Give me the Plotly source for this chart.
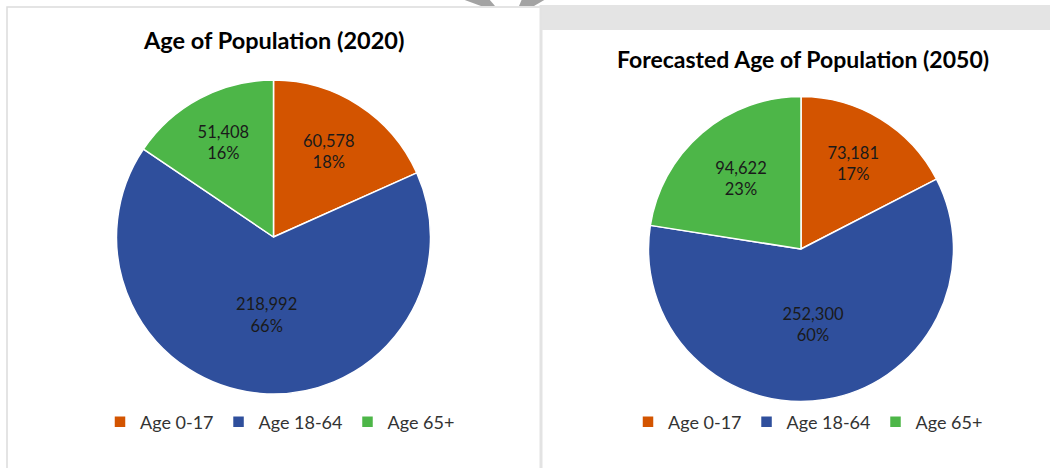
import plotly.graph_objects as go

W, H = 1050, 468

categories = ["Age 0-17", "Age 18-64", "Age 65+"]
values_2020 = [60578, 218992, 51408]
values_2050 = [73181, 252300, 94622]
colors = ["#D35400", "#2F4F9C", "#4DB648"]
title_2020 = "Age of Population (2020)"
title_2050 = "Forecasted Age of Population (2050)"

FONT = "Lato, 'Open Sans', sans-serif"


def px(x):
    return x / W


def py(y):
    return 1 - y / H


def pie_domain(cx, cy, r):
    return dict(x=[px(cx - r), px(cx + r)], y=[py(cy + r), py(cy - r)])


# pies that share labels share legend entries in plotly; a zero-width space
# keeps the second chart's legend separate while showing the same text
labels_2050 = [c + "\u200b" for c in categories]

fig = go.Figure()

fig.add_trace(go.Pie(
    labels=categories, values=values_2020, sort=False, direction="clockwise",
    rotation=0, marker=dict(colors=colors, line=dict(color="white", width=1.5)),
    texttemplate="%{value:,}<br>%{percent:.0%}", textposition="inside",
    insidetextorientation="horizontal",
    textfont=dict(family=FONT, size=16.5, color="#1a1a1a"),
    domain=pie_domain(273.5, 237, 157), legend="legend", hoverinfo="label+value+percent",
))

fig.add_trace(go.Pie(
    labels=labels_2050, values=values_2050, sort=False, direction="clockwise",
    rotation=0, marker=dict(colors=colors, line=dict(color="white", width=1.5)),
    texttemplate="%{value:,}<br>%{percent:.0%}", textposition="inside",
    insidetextorientation="horizontal",
    textfont=dict(family=FONT, size=16.5, color="#1a1a1a"),
    domain=pie_domain(801, 249, 152.5), legend="legend2", hoverinfo="label+value+percent",
))

shapes = [
    # left panel
    dict(type="rect", xref="paper", yref="paper", x0=px(7), x1=px(541), y0=py(470), y1=py(7),
         line=dict(color="#dcdcdc", width=1.5), fillcolor="white", layer="below"),
    # right grey strip
    dict(type="rect", xref="paper", yref="paper", x0=px(541), x1=px(1052), y0=py(30), y1=py(5),
         line=dict(width=0), fillcolor="#e4e4e4", layer="below"),
    # divider line
    dict(type="line", xref="paper", yref="paper", x0=px(541), x1=px(541), y0=py(470), y1=py(5),
         line=dict(color="#e3e3e3", width=3), layer="below"),
    # grey V decoration at top
    dict(type="path", xref="paper", yref="paper",
         path=f"M {px(462)},{py(-1)} L {px(489)},{py(-1)} L {px(495)},{py(6)} L {px(481)},{py(6)} Z",
         line=dict(width=0), fillcolor="#a3a3a3"),
    dict(type="path", xref="paper", yref="paper",
         path=f"M {px(522)},{py(-1)} L {px(546)},{py(-1)} L {px(534)},{py(6)} L {px(519)},{py(6)} Z",
         line=dict(width=0), fillcolor="#a3a3a3"),
]

annotations = [
    dict(text=f"<b>{title_2020}</b>", x=px(273), y=py(40), xref="paper", yref="paper",
         showarrow=False, xanchor="center", yanchor="middle",
         font=dict(family=FONT, size=23.5, color="#000")),
    dict(text=f"<b>{title_2050}</b>", x=px(803), y=py(59), xref="paper", yref="paper",
         showarrow=False, xanchor="center", yanchor="middle",
         font=dict(family=FONT, size=23, color="#000")),
]

legend_common = dict(orientation="h", yanchor="middle", xanchor="left",
                     font=dict(family=FONT, size=18, color="#333"),
                     bgcolor="rgba(0,0,0,0)", itemclick=False, itemdoubleclick=False)

fig.update_layout(
    width=W, height=H, margin=dict(l=0, r=0, t=0, b=0),
    paper_bgcolor="white", plot_bgcolor="white",
    shapes=shapes, annotations=annotations,
    legend=dict(x=px(100), y=py(422), **legend_common),
    legend2=dict(x=px(628), y=py(422), **legend_common),
    showlegend=True,
)

fig.write_html("out.html", config={"displayModeBar": False},
               post_script="document.body.style.margin='0px';")
